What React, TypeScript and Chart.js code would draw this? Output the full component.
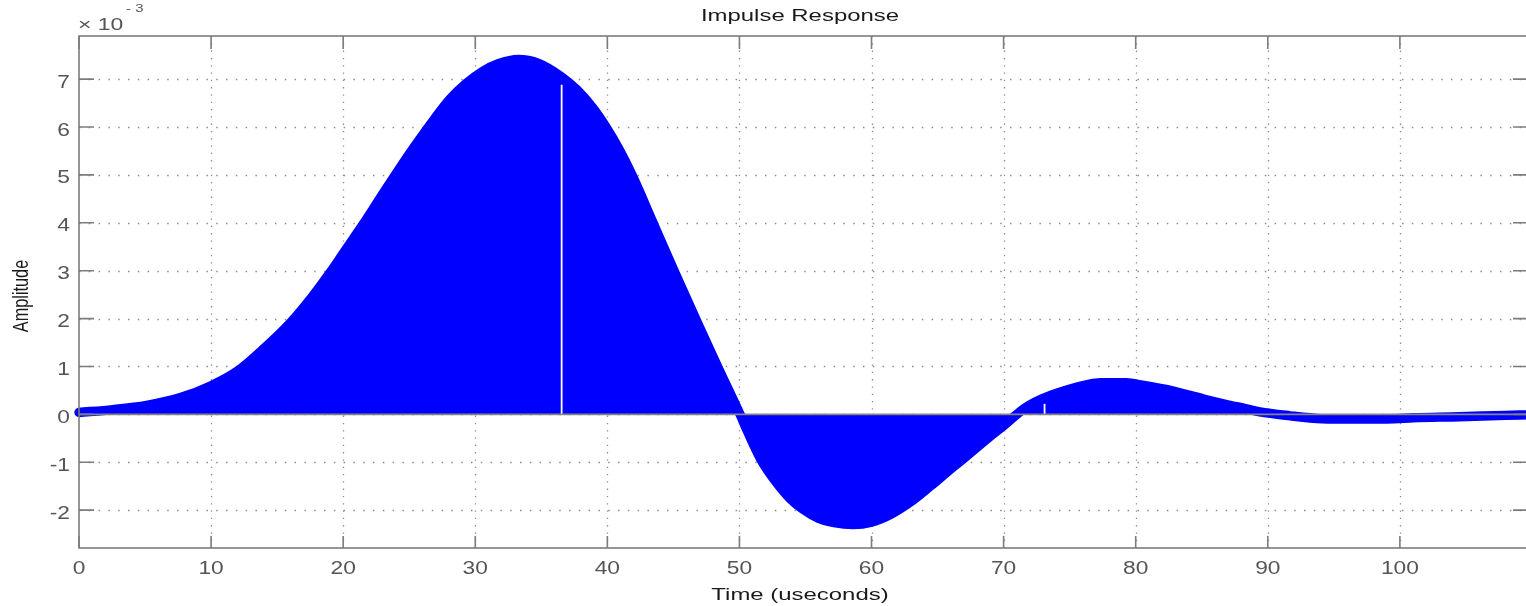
import { useEffect, useRef } from "react";
import { Chart, registerables } from "chart.js";

Chart.register(...registerables);

// ---- data ----
const times = [
  0, 2.55, 5.13, 7.68, 10.0, 12.07, 13.86, 16.03, 17.69, 18.96, 20.22, 21.49,
  22.76, 24.35, 25.6, 26.86, 28.08, 29.32, 30.55, 31.74, 33.26, 34.79, 36.47,
  37.69, 38.9, 39.9, 40.9, 41.9, 43.43, 45.1, 46.76, 48.43, 50.05, 50.6, 51.6,
  52.6, 53.84, 54.8, 56.0, 57.17, 58.6, 60.0, 61.5, 62.95, 64.45, 65.96, 67.47,
  68.98, 70.25, 71.0, 71.6, 72.4, 73.6, 74.9, 76.35, 77.3, 79.3, 80.5, 82.3,
  83.8, 85.3, 86.8, 88.3, 89.4, 91.7, 94.1, 96.5, 99.6, 101, 104.5, 108, 109.7,
];
const amplitudes = [
  0.04, 0.1, 0.19, 0.35, 0.6, 0.92, 1.34, 1.92, 2.47, 2.94, 3.45, 3.96, 4.5,
  5.17, 5.67, 6.15, 6.58, 6.91, 7.16, 7.32, 7.41, 7.33, 7.06, 6.78, 6.4, 6.0,
  5.53, 4.98, 4.02, 2.97, 1.95, 0.95, 0.0, -0.35, -0.93, -1.35, -1.76, -1.98,
  -2.17, -2.26, -2.3, -2.25, -2.08, -1.83, -1.5, -1.15, -0.81, -0.46, -0.18,
  0.0, 0.13, 0.26, 0.4, 0.52, 0.62, 0.66, 0.66, 0.61, 0.52, 0.42, 0.31, 0.21,
  0.12, 0.05, -0.03, -0.09, -0.1, -0.09, -0.07, -0.05, -0.02, -0.01,
];
// missing stems (white gaps) in the rendered stem field
const gapTimes = [36.54, 73.1];
const gapTops = [6.88, 0.22];

const xTicks = [0, 10, 20, 30, 40, 50, 60, 70, 80, 90, 100];
const xTickLabels = ["0", "10", "20", "30", "40", "50", "60", "70", "80", "90", "100"];
const yTicks = [-2, -1, 0, 1, 2, 3, 4, 5, 6, 7];
const yTickLabels = ["-2", "-1", "0", "1", "2", "3", "4", "5", "6", "7"];

const titleText = "Impulse Response";
const xTitleText = "Time (useconds)";
const yTitleText = "Amplitude";
const exponentBase = "\u00d7 10";
const exponentPower = "- 3";

const X_MIN = 0;
const X_MAX = 109.7;
const Y_MIN = -2.79;
const Y_MAX = 7.9;

const FONT = '"Liberation Sans", Arial, Helvetica, sans-serif';
const FRAME = "#7c7c7c";

function drawText(
  ctx: CanvasRenderingContext2D,
  text: string,
  x: number,
  y: number,
  size: number,
  align: CanvasTextAlign,
  color: string,
  sx: number
) {
  ctx.save();
  ctx.translate(x, y);
  ctx.scale(sx, 1);
  ctx.font = `${size}px ${FONT}`;
  ctx.textAlign = align;
  ctx.textBaseline = "alphabetic";
  ctx.fillStyle = color;
  ctx.fillText(text, 0, 0);
  ctx.restore();
}

const matlabAxes = {
  id: "matlabAxes",
  beforeDatasetsDraw(chart: any) {
    const { ctx, chartArea: a } = chart;
    const x = chart.scales.x;
    const y = chart.scales.y;
    ctx.save();
    ctx.strokeStyle = "#8c8c8c";
    ctx.lineWidth = 1.3;
    ctx.setLineDash([1.3, 6.0]);
    for (const t of xTicks) {
      const px = Math.round(x.getPixelForValue(t)) + 0.5;
      if (px <= a.left + 2 || px >= a.right - 2) continue;
      ctx.beginPath();
      ctx.moveTo(px, a.top);
      ctx.lineTo(px, a.bottom);
      ctx.stroke();
    }
    ctx.setLineDash([1.5, 8.3]);
    for (const v of yTicks) {
      const py = Math.round(y.getPixelForValue(v)) + 0.5;
      ctx.beginPath();
      ctx.moveTo(a.left, py);
      ctx.lineTo(a.right, py);
      ctx.stroke();
    }
    ctx.restore();
  },
  afterDatasetsDraw(chart: any) {
    const { ctx, chartArea: a } = chart;
    const x = chart.scales.x;
    const y = chart.scales.y;
    ctx.save();
    // stem baseline
    const y0 = y.getPixelForValue(0);
    ctx.strokeStyle = "#858585";
    ctx.lineWidth = 1.6;
    ctx.beginPath();
    ctx.moveTo(a.left, y0);
    ctx.lineTo(a.right, y0);
    ctx.stroke();
    // frame
    ctx.strokeStyle = FRAME;
    ctx.lineWidth = 1.6;
    ctx.strokeRect(a.left, a.top, a.right - a.left, a.bottom - a.top);
    // inward ticks
    for (const t of xTicks) {
      const px = x.getPixelForValue(t);
      ctx.beginPath();
      ctx.moveTo(px, a.bottom);
      ctx.lineTo(px, a.bottom - 12);
      ctx.moveTo(px, a.top);
      ctx.lineTo(px, a.top + 13);
      ctx.stroke();
    }
    for (const v of yTicks) {
      const py = y.getPixelForValue(v);
      ctx.beginPath();
      ctx.moveTo(a.left, py);
      ctx.lineTo(a.left + 15, py);
      ctx.moveTo(a.right, py);
      ctx.lineTo(a.right - 15, py);
      ctx.stroke();
    }
    ctx.restore();
  },
  afterDraw(chart: any) {
    const { ctx, chartArea: a } = chart;
    const x = chart.scales.x;
    const y = chart.scales.y;
    const tickColor = "#555555";
    xTicks.forEach((t, i) => {
      drawText(ctx, xTickLabels[i], x.getPixelForValue(t), a.bottom + 26, 17.5, "center", tickColor, 1.3);
    });
    yTicks.forEach((v, i) => {
      drawText(ctx, yTickLabels[i], a.left - 9, y.getPixelForValue(v) + 8.6, 17.5, "right", tickColor, 1.3);
    });
    drawText(ctx, exponentBase, a.left - 1, 30, 17, "left", tickColor, 1.35);
    drawText(ctx, exponentPower, a.left + 47, 12, 11.5, "left", tickColor, 1.3);
    drawText(ctx, titleText, 800, 21, 16.3, "center", "#1a1a1a", 1.47);
    drawText(ctx, xTitleText, 800, 600, 16.3, "center", "#1a1a1a", 1.47);
    // rotated y title
    ctx.save();
    ctx.translate(28, 296);
    ctx.scale(1.3, 1);
    ctx.rotate(-Math.PI / 2);
    ctx.font = `16.3px ${FONT}`;
    ctx.textAlign = "center";
    ctx.textBaseline = "alphabetic";
    ctx.fillStyle = "#1a1a1a";
    ctx.fillText(yTitleText, 0, 0);
    ctx.restore();
  },
};

export default function App() {
  const canvasRef = useRef<HTMLCanvasElement | null>(null);

  useEffect(() => {
    const canvas = canvasRef.current;
    if (!canvas) return;
    const gapSets = gapTimes.map((t, i) => ({
      label: `gap${i}`,
      data: [
        { x: t, y: 0 },
        { x: t, y: gapTops[i] },
      ],
      borderColor: "#ffffff",
      borderWidth: 1.8,
      pointRadius: 0,
      fill: false,
      order: 0,
    }));
    const chart = new Chart(canvas, {
      type: "line",
      data: {
        datasets: [
          {
            label: "impulse",
            data: times.map((t, i) => ({ x: t, y: amplitudes[i] })),
            borderColor: "#0000ff",
            backgroundColor: "#0000ff",
            borderWidth: 9.4,
            borderCapStyle: "round",
            borderJoinStyle: "round",
            pointRadius: 0,
            fill: "origin",
            cubicInterpolationMode: "monotone",
            clip: { left: 6, top: 0, right: 0, bottom: 0 },
            order: 1,
          } as any,
          ...gapSets,
        ],
      },
      options: {
        animation: false,
        responsive: true,
        maintainAspectRatio: false,
        devicePixelRatio: 1,
        layout: { padding: { left: 79, top: 36, right: 12, bottom: 58 } },
        plugins: {
          legend: { display: false },
          tooltip: { enabled: false },
          title: { display: false },
        },
        events: [],
        scales: {
          x: { type: "linear", min: X_MIN, max: X_MAX, display: false, offset: false },
          y: { type: "linear", min: Y_MIN, max: Y_MAX, display: false },
        },
      },
      plugins: [matlabAxes],
    });
    return () => chart.destroy();
  }, []);

  return (
    <div
      style={{
        position: "fixed",
        left: 0,
        top: 0,
        width: 1526,
        height: 606,
        overflow: "hidden",
        background: "#ffffff",
      }}
    >
      <div style={{ position: "relative", width: 1540, height: 606 }}>
        <canvas ref={canvasRef} />
      </div>
    </div>
  );
}
